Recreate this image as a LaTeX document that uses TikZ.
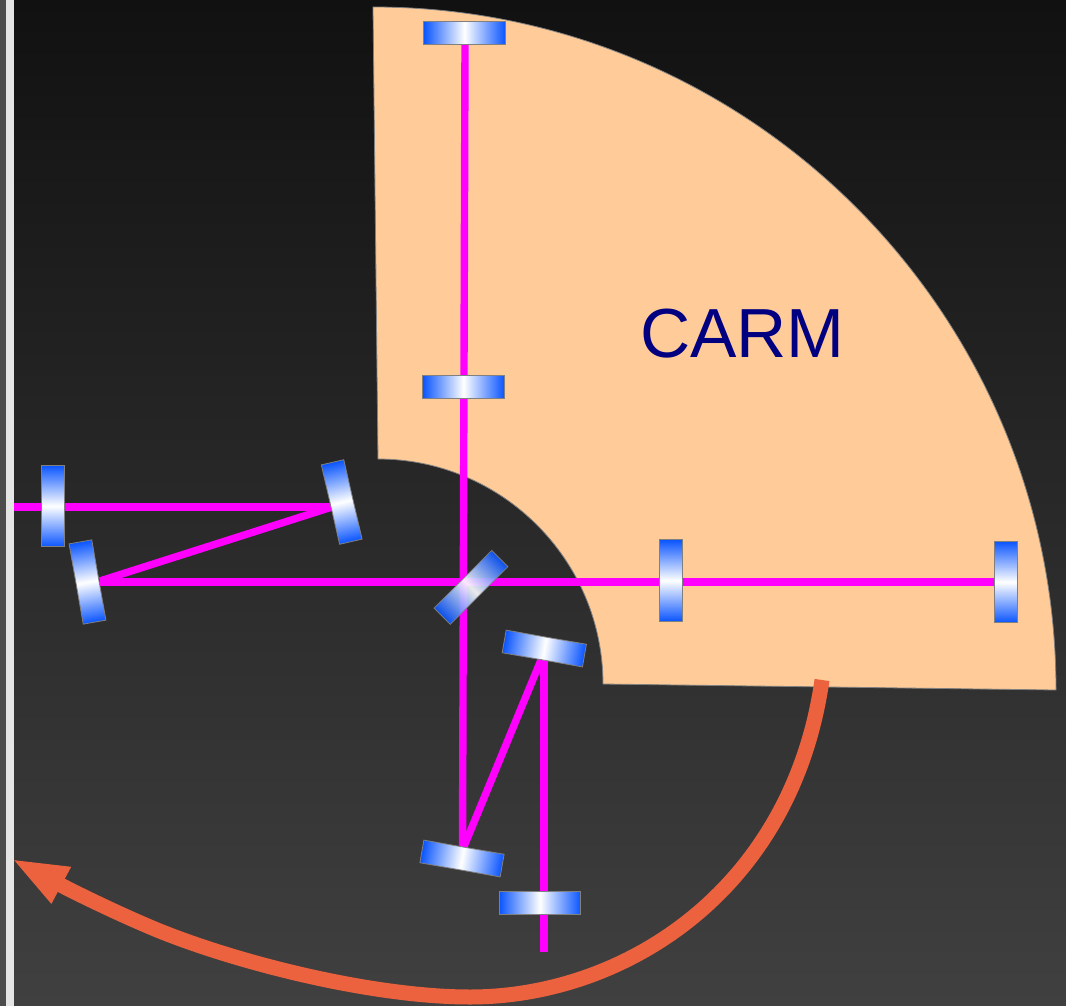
\documentclass[tikz,border=0pt]{standalone}
\usepackage{fontspec}
\setmainfont{Liberation Sans}
\usetikzlibrary{arrows.meta}
\definecolor{peach}{HTML}{FFCC99}
\definecolor{beam}{HTML}{FF00FF}
\definecolor{orangearrow}{HTML}{EC623E}
\definecolor{carmtext}{HTML}{000080}
\definecolor{mirrorblue}{HTML}{0A55FF}
\definecolor{bgtop}{HTML}{111111}
\definecolor{bgbottom}{HTML}{404040}
\pgfdeclareverticalshading{mirrorshade}{100bp}{color(0bp)=(mirrorblue);color(25bp)=(mirrorblue);color(50bp)=(white);color(75bp)=(mirrorblue);color(100bp)=(mirrorblue)}
\tikzset{
  mirror/.style={rectangle,draw=gray,line width=.8pt,shading=mirrorshade,minimum width=23pt,minimum height=81.5pt,inner sep=0pt,outer sep=0pt},
  tilt/.style args={#1 at #2}{transform canvas={rotate around={#1:#2}}},
  beamline/.style={draw=beam,line width=7.4pt},
  feedback/.style={draw=orangearrow,line width=15pt,-{Triangle[length=57pt,width=37pt]}},
}
\begin{document}
\begin{tikzpicture}[x=1pt,y=-1pt]
\useasboundingbox (0,0) rectangle (1066,1006);
\shade[top color=bgtop,bottom color=bgbottom] (0,0) rectangle (1066,1006);
\fill[black!70!white] (0,0) rectangle (6,1006);
\fill[black!10] (6,0) rectangle (14,1006);
\draw[fill=peach,draw=gray,line width=.8pt] (373,7) .. controls (750,7) and (1056,313) .. (1056,690) -- (603,684) .. controls (603,560) and (502,459) .. (378,459) -- cycle;
\node[text=carmtext,font=\fontsize{69.5}{70}\selectfont,inner sep=0pt] (carm) at (742.5,334) {CARM};

\coordinate (src) at (14,507);
\coordinate (fold1) at (332,507);
\coordinate (fold2) at (100,581);
\coordinate (endx) at (1006,582);
\coordinate (startx) at (100,582);
\coordinate (endy) at (465,45);
\coordinate (fold3) at (462.5,850);
\coordinate (fold4) at (541,660);
\coordinate (fold5) at (544,660);
\coordinate (sink) at (544,952);
\draw[beamline] (src) -- (fold1);
\draw[beamline] (fold1) -- (fold2);
\draw[beamline] (startx) -- (endx);
\draw[beamline] (endy) -- (fold3);
\draw[beamline] (fold3) -- (fold4);
\draw[beamline] (fold5) -- (sink);

% the canvas rotation acts on the node twice, so each angle here is half the tilt drawn
\node[mirror,tilt={45 at (464.5,33)}] (ety) at (464.5,33) {};
\node[mirror,tilt={45 at (463.5,387)}] (ity) at (463.5,387) {};
\node[mirror] (prm) at (53,506) {};
\node[mirror,tilt={5 at (87.5,582)}] (pr2) at (87.5,582) {};
\node[mirror,tilt={6.5 at (341.7,502)}] (pr3) at (341.7,502) {};
\node[mirror,tilt={-22.5 at (471,587.4)},opacity=.9] (bs) at (471,587.4) {};
\node[mirror,tilt={40 at (544.3,648.5)}] (sr2) at (544.3,648.5) {};
\node[mirror,tilt={40 at (462,858.5)}] (sr3) at (462,858.5) {};
\node[mirror,tilt={45 at (540,903)}] (srm) at (540,903) {};
\node[mirror] (itx) at (671,580.5) {};
\node[mirror] (etx) at (1006,582) {};

\coordinate (fbstart) at (822,680);
\coordinate (fbend) at (11,858.5);
\draw[feedback] (fbstart) .. controls (792,890) and (625,997) .. (470,997) .. controls (370,997) and (230,961) .. (150,927) .. controls (110,910) and (70,890) .. (fbend);
\end{tikzpicture}
\end{document}
